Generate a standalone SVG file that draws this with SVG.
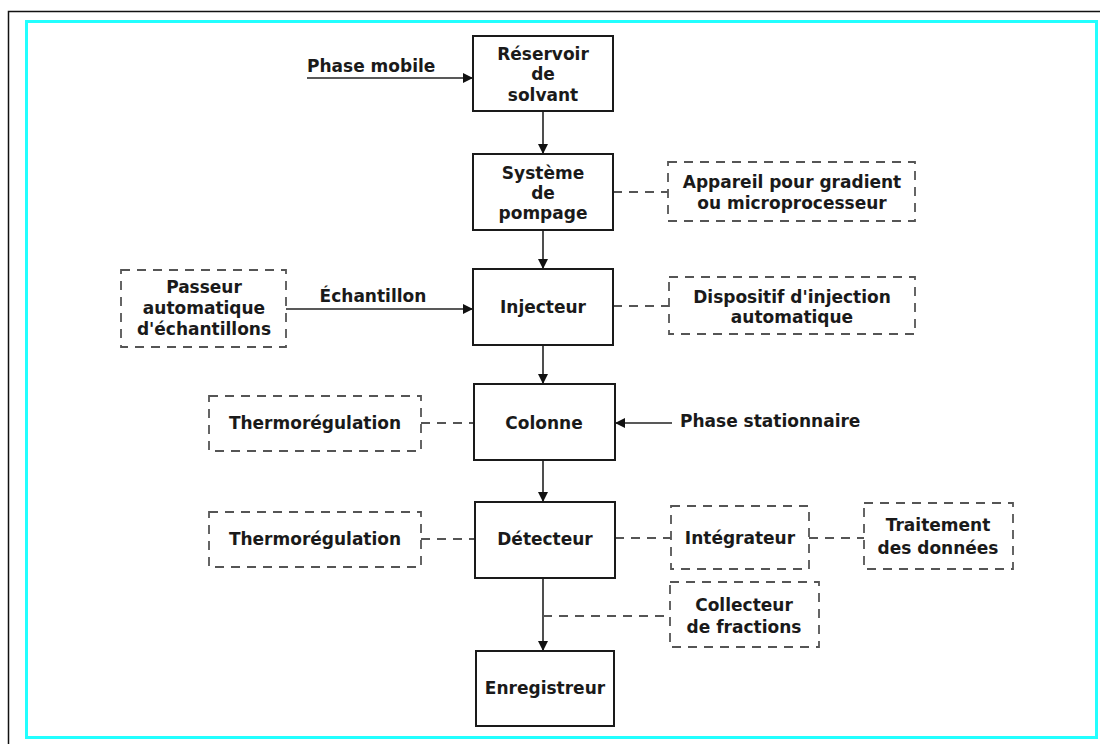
<svg xmlns="http://www.w3.org/2000/svg" width="1100" height="744" viewBox="0 0 1100 744">
<defs>
<marker id="ah" viewBox="0 0 10 10" refX="10" refY="5" markerWidth="10" markerHeight="10" markerUnits="userSpaceOnUse" orient="auto">
<path d="M0,0 L10,5 L0,10 z" fill="#111"/>
</marker>
</defs>
<style>
.t{font-family:"DejaVu Sans","Liberation Sans",sans-serif;font-weight:bold;font-size:17px;fill:#1a1a1a;text-anchor:middle}
.ts{text-anchor:start}
.box{fill:none;stroke:#1a1a1a;stroke-width:2}
.dbox{fill:none;stroke:#555;stroke-width:1.8;stroke-dasharray:9 7}
.ln{fill:none;stroke:#222;stroke-width:1.6}
.dl{fill:none;stroke:#555;stroke-width:1.8;stroke-dasharray:9 7}
</style>
<rect width="1100" height="744" fill="#fff"/>
<path d="M8.5,744 V11.5 H1100" fill="none" stroke="#111" stroke-width="1.5"/>
<rect x="26.5" y="21.5" width="1070" height="716" fill="none" stroke="#22ffff" stroke-width="3"/>

<g id="connectors">
<path class="ln" d="M543,111 V154" marker-end="url(#ah)"/>
<path class="ln" d="M543,230 V269" marker-end="url(#ah)"/>
<path class="ln" d="M543,345 V384" marker-end="url(#ah)"/>
<path class="ln" d="M543,460 V502" marker-end="url(#ah)"/>
<path class="ln" d="M543,578 V651" marker-end="url(#ah)"/>
<path class="ln" d="M307,78 H473" marker-end="url(#ah)"/>
<path class="ln" d="M286,309 H473" marker-end="url(#ah)"/>
<path class="ln" d="M672,423 H615" marker-end="url(#ah)"/>
<path class="dl" d="M613,192 H668"/>
<path class="dl" d="M613,306 H669"/>
<path class="dl" d="M421,423 H474"/>
<path class="dl" d="M421,539 H475"/>
<path class="dl" d="M615,538 H671"/>
<path class="dl" d="M809,538 H864"/>
<path class="dl" d="M543,616 H670"/>
<text class="t ts" x="307" y="72">Phase mobile</text>
<text class="t" x="373" y="302">Échantillon</text>
<text class="t ts" x="680" y="427">Phase stationnaire</text>
</g>

<g id="reservoir">
<rect class="box" x="473" y="36" width="140" height="75"/>
<text class="t" x="543" y="60">Réservoir</text>
<text class="t" x="543" y="80">de</text>
<text class="t" x="543" y="101">solvant</text>
</g>
<g id="pompage">
<rect class="box" x="473" y="154" width="140" height="76"/>
<text class="t" x="543" y="179">Système</text>
<text class="t" x="543" y="199">de</text>
<text class="t" x="543" y="219">pompage</text>
</g>
<g id="injecteur">
<rect class="box" x="473" y="269" width="140" height="76"/>
<text class="t" x="543" y="313">Injecteur</text>
</g>
<g id="colonne">
<rect class="box" x="474" y="384" width="141" height="76"/>
<text class="t" x="544" y="429">Colonne</text>
</g>
<g id="detecteur">
<rect class="box" x="475" y="502" width="140" height="76"/>
<text class="t" x="545" y="545">Détecteur</text>
</g>
<g id="enregistreur">
<rect class="box" x="476" y="651" width="138" height="75"/>
<text class="t" x="545" y="694">Enregistreur</text>
</g>

<g id="gradient">
<rect class="dbox" x="668" y="162" width="247" height="59"/>
<text class="t" x="792" y="188">Appareil pour gradient</text>
<text class="t" x="792" y="209">ou microprocesseur</text>
</g>
<g id="injection-auto">
<rect class="dbox" x="669" y="277" width="246" height="57"/>
<text class="t" x="792" y="303">Dispositif d'injection</text>
<text class="t" x="792" y="323">automatique</text>
</g>
<g id="passeur">
<rect class="dbox" x="121" y="270" width="165" height="77"/>
<text class="t" x="204" y="293">Passeur</text>
<text class="t" x="204" y="314">automatique</text>
<text class="t" x="204" y="335">d'échantillons</text>
</g>
<g id="thermo1">
<rect class="dbox" x="209" y="396" width="212" height="55"/>
<text class="t" x="315" y="429">Thermorégulation</text>
</g>
<g id="thermo2">
<rect class="dbox" x="209" y="512" width="212" height="55"/>
<text class="t" x="315" y="545">Thermorégulation</text>
</g>
<g id="integrateur">
<rect class="dbox" x="671" y="506" width="138" height="63"/>
<text class="t" x="740" y="544">Intégrateur</text>
</g>
<g id="traitement">
<rect class="dbox" x="864" y="503" width="149" height="66"/>
<text class="t" x="938" y="531">Traitement</text>
<text class="t" x="938" y="554">des données</text>
</g>
<g id="collecteur">
<rect class="dbox" x="670" y="582" width="149" height="65"/>
<text class="t" x="744" y="611">Collecteur</text>
<text class="t" x="744" y="633">de fractions</text>
</g>
</svg>
